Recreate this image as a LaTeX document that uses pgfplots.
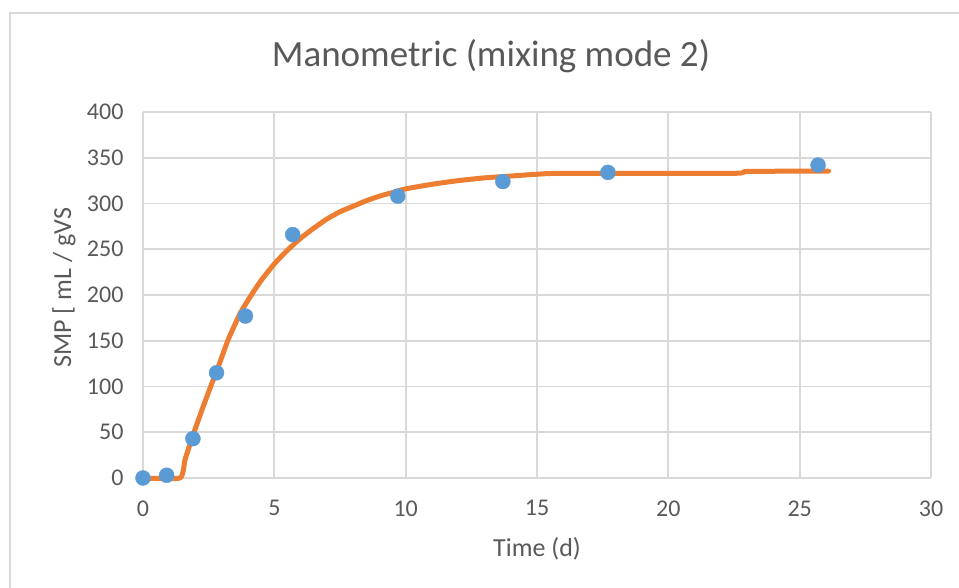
\documentclass[border=0pt]{standalone}
\usepackage{fontspec}
\setmainfont{Carlito}
\usepackage{pgfplots}
\pgfplotsset{compat=1.18}

\definecolor{txtgray}{RGB}{89,89,89}
\definecolor{gridgray}{RGB}{217,217,217}
\definecolor{ptblue}{RGB}{91,155,213}
\definecolor{fitorange}{RGB}{237,125,49}

\begin{document}
\begin{tikzpicture}
\useasboundingbox (-143pt,-110pt) rectangle (816pt,478pt);
\draw[gridgray, line width=2.5pt] (-133pt,-110pt) -- (-133pt,465pt) -- (816pt,465pt);
\begin{axis}[
    at={(0pt,0pt)}, anchor=south west,
    scale only axis,
    width=788pt, height=366pt,
    xmin=0, xmax=30, ymin=0, ymax=400,
    xtick={0,5,...,30}, ytick={0,50,...,400},
    grid=major,
    major grid style={gridgray, line width=1.8pt},
    axis line style={draw=none},
    tick style={draw=none},
    ticklabel style={font=\fontsize{24}{28}\selectfont, text=txtgray},
    /pgf/number format/assume math mode=true,
    xticklabel style={yshift=-19pt},
    yticklabel style={xshift=-16pt},
    title={Manometric (mixing mode 2)},
    title style={at={(axis description cs:0.4416,1.1366)}, anchor=center,
        font=\fontsize{37}{44}\selectfont, text=txtgray},
    xlabel={Time (d)},
    xlabel style={at={(axis description cs:0.5,-0.194)}, anchor=center,
        font=\fontsize{26}{31}\selectfont, text=txtgray},
    ylabel={SMP [ mL / gVS},
    ylabel style={at={(axis description cs:-0.1003,0.52)}, anchor=center,
        font=\fontsize{26}{31}\selectfont, text=txtgray},
    clip=false,
]
% fitted curve
\addplot[fitorange, line width=5pt, line join=round, line cap=round, smooth, tension=0.3] coordinates {
    (0,0) (1.41,0) (1.6,20) (1.87,44) (2.29,78) (2.63,104) (2.86,121)
    (3.24,151) (3.7,180) (4.08,198) (4.5,216) (5.0,234) (5.5,249)
    (6.0,262) (6.5,273) (7.0,283) (7.5,291) (8.0,297) (8.5,303)
    (9.0,308) (9.5,312) (10,316) (11,321) (12,325) (13,328) (14,330)
    (15,332) (16,333) (22.5,333) (23,335) (26.1,335.5)
};
% measured
\addplot[only marks, mark=*, mark size=7.5pt, draw=ptblue, fill=ptblue] coordinates {
    (0,0) (0.9,3) (1.9,43) (2.8,115) (3.9,177) (5.7,266)
    (9.7,308) (13.7,324) (17.7,334) (25.7,342)
};
\end{axis}
\end{tikzpicture}
\end{document}
